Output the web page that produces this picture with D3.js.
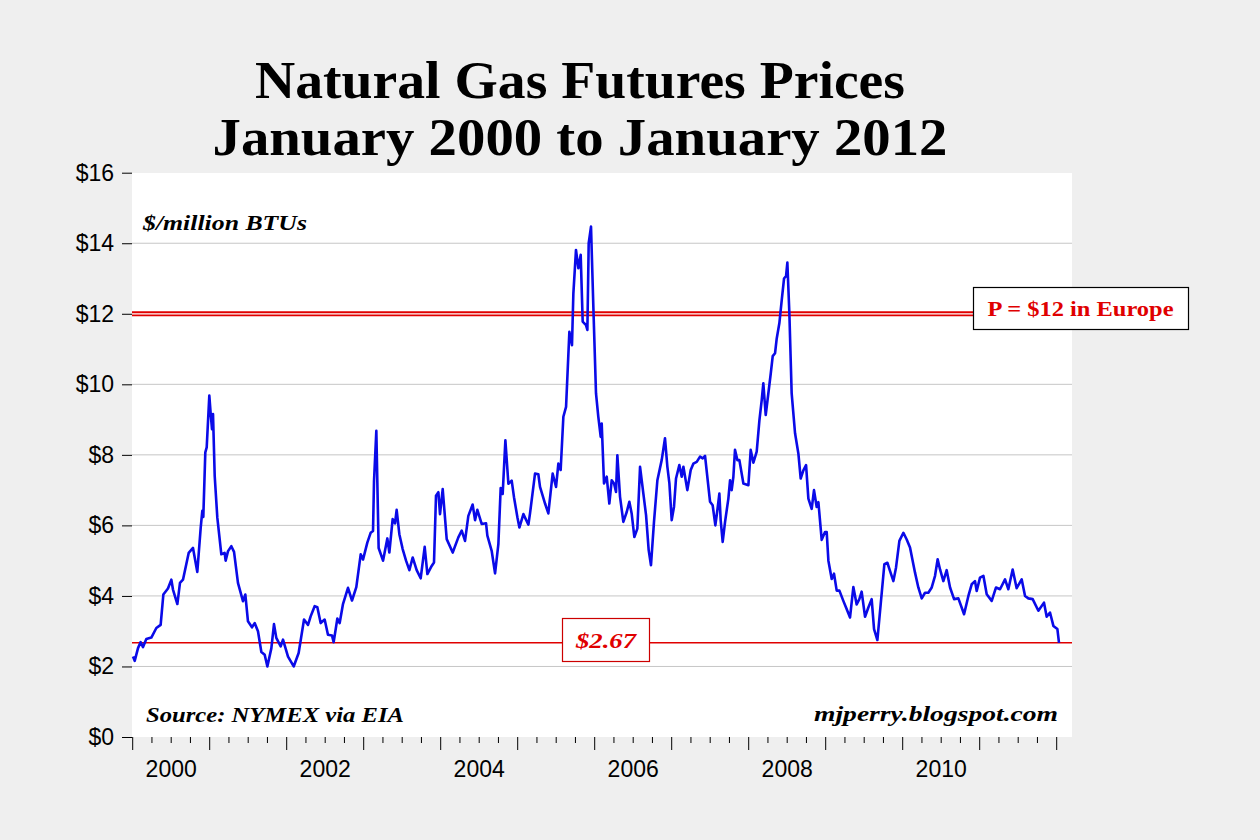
<!DOCTYPE html>
<html>
<head>
<meta charset="utf-8">
<script src="https://cdn.jsdelivr.net/npm/d3@7/dist/d3.min.js"></script>
<style>
  body { margin: 0; background: #efefef; }
  svg { display: block; }
</style>
</head>
<body>
<svg id="chart" width="1260" height="840"></svg>
<script>
// Henry Hub futures (decimal years, $/million BTU)
const years = [
  2000.004, 2000.026, 2000.069, 2000.103, 2000.134, 2000.177, 2000.242, 2000.307, 2000.363, 2000.398,
  2000.458, 2000.502, 2000.523, 2000.580, 2000.614, 2000.653, 2000.727, 2000.783, 2000.839, 2000.883,
  2000.904, 2000.917, 2000.943, 2000.961, 2000.995, 2001.013, 2001.030, 2001.043, 2001.065, 2001.099,
  2001.151, 2001.194, 2001.207, 2001.238, 2001.281, 2001.316, 2001.367, 2001.432, 2001.463, 2001.497,
  2001.549, 2001.584, 2001.627, 2001.671, 2001.714, 2001.749, 2001.801, 2001.835, 2001.865, 2001.922,
  2001.952, 2002.017, 2002.091, 2002.155, 2002.225, 2002.277, 2002.311, 2002.363, 2002.398, 2002.441,
  2002.493, 2002.536, 2002.588, 2002.610, 2002.658, 2002.688, 2002.731, 2002.796, 2002.848, 2002.904,
  2002.961, 2002.991, 2003.047, 2003.090, 2003.121, 2003.134, 2003.164, 2003.194, 2003.251, 2003.307,
  2003.333, 2003.376, 2003.407, 2003.428, 2003.463, 2003.506, 2003.550, 2003.593, 2003.636, 2003.688,
  2003.740, 2003.792, 2003.827, 2003.883, 2003.913, 2003.939, 2003.970, 2003.991, 2004.026, 2004.078,
  2004.156, 2004.229, 2004.273, 2004.316, 2004.359, 2004.415, 2004.446, 2004.476, 2004.532, 2004.589,
  2004.606, 2004.662, 2004.706, 2004.749, 2004.779, 2004.805, 2004.840, 2004.879, 2004.922, 2004.952,
  2004.996, 2005.022, 2005.074, 2005.139, 2005.160, 2005.225, 2005.268, 2005.290, 2005.355, 2005.398,
  2005.454, 2005.498, 2005.528, 2005.558, 2005.593, 2005.628, 2005.671, 2005.705, 2005.723, 2005.757,
  2005.788, 2005.818, 2005.844, 2005.887, 2005.905, 2005.922, 2005.952, 2005.983, 2006.017, 2006.047,
  2006.078, 2006.091, 2006.121, 2006.156, 2006.190, 2006.221, 2006.251, 2006.277, 2006.294, 2006.329,
  2006.372, 2006.416, 2006.450, 2006.480, 2006.515, 2006.554, 2006.589, 2006.632, 2006.667, 2006.701,
  2006.731, 2006.770, 2006.814, 2006.870, 2006.913, 2006.944, 2006.970, 2007.000, 2007.030, 2007.056,
  2007.099, 2007.130, 2007.152, 2007.203, 2007.247, 2007.281, 2007.325, 2007.368, 2007.403, 2007.433,
  2007.498, 2007.532, 2007.567, 2007.593, 2007.619, 2007.636, 2007.662, 2007.693, 2007.736, 2007.758,
  2007.779, 2007.801, 2007.822, 2007.853, 2007.879, 2007.931, 2007.996, 2008.026, 2008.061, 2008.104,
  2008.139, 2008.169, 2008.190, 2008.221, 2008.255, 2008.286, 2008.312, 2008.342, 2008.364, 2008.398,
  2008.429, 2008.459, 2008.485, 2008.502, 2008.528, 2008.558, 2008.602, 2008.645, 2008.675, 2008.710,
  2008.745, 2008.775, 2008.818, 2008.848, 2008.883, 2008.905, 2008.948, 2008.991, 2009.013, 2009.035,
  2009.078, 2009.108, 2009.143, 2009.178, 2009.229, 2009.264, 2009.316, 2009.359, 2009.402, 2009.437,
  2009.467, 2009.511, 2009.554, 2009.597, 2009.628, 2009.671, 2009.714, 2009.762, 2009.801, 2009.835,
  2009.879, 2009.913, 2009.957, 2010.009, 2010.052, 2010.095, 2010.160, 2010.203, 2010.247, 2010.290,
  2010.333, 2010.377, 2010.420, 2010.454, 2010.485, 2010.528, 2010.571, 2010.615, 2010.667, 2010.723,
  2010.797, 2010.853, 2010.896, 2010.939, 2010.961, 2011.004, 2011.048, 2011.091, 2011.156, 2011.212,
  2011.264, 2011.329, 2011.372, 2011.428, 2011.480, 2011.545, 2011.589, 2011.632, 2011.688, 2011.762,
  2011.835, 2011.870, 2011.913, 2011.957, 2012.009, 2012.030
];
const prices = [
  2.28, 2.16, 2.52, 2.69, 2.55, 2.78, 2.82, 3.09, 3.18, 4.04,
  4.21, 4.46, 4.18, 3.77, 4.37, 4.46, 5.22, 5.36, 4.68, 5.93,
  6.41, 6.24, 8.07, 8.21, 9.68, 9.16, 8.73, 9.16, 7.40, 6.22,
  5.18, 5.22, 5.00, 5.27, 5.41, 5.25, 4.37, 3.85, 4.04, 3.28,
  3.11, 3.23, 3.00, 2.41, 2.33, 2.00, 2.52, 3.20, 2.81, 2.57,
  2.76, 2.28, 2.00, 2.38, 3.33, 3.18, 3.42, 3.71, 3.68, 3.23,
  3.33, 2.90, 2.88, 2.69, 3.36, 3.23, 3.77, 4.23, 3.87, 4.25,
  5.18, 5.03, 5.51, 5.79, 5.84, 7.26, 8.68, 5.36, 5.00, 5.63,
  5.23, 6.18, 6.06, 6.44, 5.75, 5.33, 5.00, 4.73, 5.09, 4.73,
  4.50, 5.39, 4.62, 4.85, 4.95, 6.84, 6.94, 6.32, 7.03, 5.61,
  5.23, 5.66, 5.85, 5.56, 6.27, 6.59, 6.15, 6.44, 6.04, 6.06,
  5.71, 5.28, 4.64, 5.47, 7.06, 6.89, 8.41, 7.18, 7.27, 6.80,
  6.23, 5.94, 6.32, 6.02, 6.34, 7.47, 7.45, 7.09, 6.62, 6.34,
  7.47, 7.09, 7.75, 7.57, 9.08, 9.36, 11.49, 11.11, 12.58, 13.81,
  13.29, 13.67, 11.78, 11.68, 11.54, 14.00, 14.47, 12.16, 9.74, 9.08,
  8.51, 8.89, 7.19, 7.38, 6.62, 7.28, 7.19, 6.95, 7.99, 6.81,
  6.10, 6.38, 6.67, 6.34, 5.67, 5.91, 7.66, 6.90, 6.29, 5.30,
  4.87, 6.10, 7.28, 7.85, 8.47, 7.66, 7.19, 6.15, 6.53, 7.33,
  7.71, 7.38, 7.66, 7.00, 7.57, 7.75, 7.80, 7.95, 7.90, 7.97,
  6.67, 6.57, 6.00, 6.43, 6.90, 6.15, 5.53, 6.10, 6.76, 7.28,
  7.00, 7.38, 8.14, 7.85, 7.85, 7.19, 7.14, 8.14, 7.78, 8.09,
  8.98, 9.55, 10.03, 9.13, 9.74, 10.30, 10.80, 10.88, 11.30, 11.73,
  12.39, 13.00, 13.07, 13.45, 12.02, 9.74, 8.61, 8.04, 7.33, 7.56,
  7.71, 6.76, 6.47, 7.00, 6.52, 6.66, 5.59, 5.81, 5.81, 5.00,
  4.48, 4.63, 4.15, 4.15, 3.86, 3.67, 3.39, 4.25, 3.76, 3.91,
  4.12, 3.41, 3.67, 3.91, 3.06, 2.75, 3.76, 4.90, 4.94, 4.71,
  4.42, 4.80, 5.56, 5.79, 5.60, 5.37, 4.66, 4.24, 3.93, 4.09,
  4.09, 4.24, 4.57, 5.04, 4.75, 4.42, 4.73, 4.24, 3.91, 3.93,
  3.48, 4.00, 4.33, 4.42, 4.14, 4.52, 4.57, 4.05, 3.86, 4.24,
  4.19, 4.47, 4.19, 4.75, 4.22, 4.47, 4.00, 3.93, 3.91, 3.58,
  3.81, 3.41, 3.53, 3.15, 3.06, 2.67
];
const yTicks = [0, 2, 4, 6, 8, 10, 12, 14, 16];
const yearLabels = [2000, 2002, 2004, 2006, 2008, 2010];
const europePrice = 12;
const lastPrice = 2.67;

const svg = d3.select("#chart");
const serif = "'Liberation Serif', 'Times New Roman', serif";
const sans = "'Liberation Sans', Arial, sans-serif";
const red = "#e00000";

const plot = { left: 132, right: 1072, top: 173, bottom: 737 };

const x = d3.scaleLinear().domain([2000, 2012]).range([132.7, 1056.7]);
const y = d3.scaleLinear().domain([0, 16]).range([737, 172.7]);

// stretch a text to a given width (the original uses Georgia)
function fit(sel, w) {
  sel.attr("textLength", w).attr("lengthAdjust", "spacingAndGlyphs");
}

// title
const title = svg.append("g")
  .attr("font-family", serif)
  .attr("font-weight", "bold")
  .attr("font-size", 52)
  .attr("text-anchor", "middle")
  .attr("fill", "#000");
title.append("text").attr("x", 580).attr("y", 98)
  .text("Natural Gas Futures Prices").call(fit, 650);
title.append("text").attr("x", 580).attr("y", 155)
  .text("January 2000 to January 2012").call(fit, 735);

// plot area
svg.append("rect")
  .attr("x", plot.left).attr("y", plot.top)
  .attr("width", plot.right - plot.left).attr("height", plot.bottom - plot.top)
  .attr("fill", "#fff");

// gridlines
svg.append("g")
  .selectAll("line")
  .data(yTicks.filter(d => d > 0 && d < 16))
  .join("line")
  .attr("x1", plot.left).attr("x2", plot.right)
  .attr("y1", d => y(d)).attr("y2", d => y(d))
  .attr("stroke", "#c6c6c6").attr("stroke-width", 1);

// y axis (ticks + labels, no domain line)
const yAxis = svg.append("g")
  .attr("transform", `translate(${plot.left},0)`)
  .call(d3.axisLeft(y).tickValues(yTicks).tickSize(10).tickPadding(8)
    .tickFormat(d => "$" + d));
yAxis.select(".domain").remove();
yAxis.selectAll("line").attr("stroke", "#000");
yAxis.selectAll("text").attr("font-family", sans).attr("font-size", 23).attr("fill", "#000");

// x axis: year ticks and quarter ticks
const quarters = d3.range(2000, 2012.01, 0.25);
const xAxis = svg.append("g").attr("transform", `translate(0,${plot.bottom})`);
xAxis.selectAll("line")
  .data(quarters)
  .join("line")
  .attr("x1", d => x(d)).attr("x2", d => x(d))
  .attr("y1", 0)
  .attr("y2", d => Number.isInteger(d) ? 13 : 6)
  .attr("stroke", "#000").attr("stroke-width", 1);
xAxis.selectAll("text")
  .data(yearLabels)
  .join("text")
  .attr("x", d => x(d + 0.5))
  .attr("y", 40)
  .attr("text-anchor", "middle")
  .attr("font-family", sans).attr("font-size", 23)
  .text(d => d);

// $12 Europe reference: double red rule
const yEu = y(europePrice);
svg.append("line")
  .attr("x1", plot.left).attr("x2", 973)
  .attr("y1", yEu).attr("y2", yEu)
  .attr("stroke", red).attr("stroke-width", 5);
svg.append("line")
  .attr("x1", plot.left).attr("x2", 973)
  .attr("y1", yEu).attr("y2", yEu)
  .attr("stroke", "#fff").attr("stroke-width", 1.2);

// latest price rule
const yLast = y(lastPrice);
svg.append("line")
  .attr("x1", plot.left).attr("x2", plot.right)
  .attr("y1", yLast).attr("y2", yLast)
  .attr("stroke", red).attr("stroke-width", 1.5);

// price series
const line = d3.line()
  .x((d, i) => x(years[i]))
  .y(d => y(d));
svg.append("path")
  .datum(prices)
  .attr("d", line)
  .attr("fill", "none")
  .attr("stroke", "#0a0ae8")
  .attr("stroke-width", 2.6)
  .attr("stroke-linejoin", "round");

// annotations
svg.append("text")
  .attr("x", 143).attr("y", 230)
  .attr("font-family", serif).attr("font-weight", "bold").attr("font-style", "italic")
  .attr("font-size", 20)
  .text("$/million BTUs").call(fit, 164);

svg.append("text")
  .attr("x", 146).attr("y", 722)
  .attr("font-family", serif).attr("font-weight", "bold").attr("font-style", "italic")
  .attr("font-size", 21)
  .text("Source: NYMEX via EIA").call(fit, 258);

svg.append("text")
  .attr("x", 1058).attr("y", 721)
  .attr("text-anchor", "end")
  .attr("font-family", serif).attr("font-weight", "bold").attr("font-style", "italic")
  .attr("font-size", 21)
  .text("mjperry.blogspot.com").call(fit, 244);

// Europe label box
svg.append("rect")
  .attr("x", 973.5).attr("y", 287.5).attr("width", 215).attr("height", 42)
  .attr("fill", "#fff").attr("stroke", "#000").attr("stroke-width", 1.2);
svg.append("text")
  .attr("x", 1080.5).attr("y", 316)
  .attr("text-anchor", "middle")
  .attr("font-family", serif).attr("font-weight", "bold")
  .attr("font-size", 21).attr("fill", red)
  .text("P = $12 in Europe").call(fit, 186);

// latest price box
svg.append("rect")
  .attr("x", 562.5).attr("y", 618.5).attr("width", 87).attr("height", 43)
  .attr("fill", "#fff").attr("stroke", "#cc0000").attr("stroke-width", 1.2);
svg.append("text")
  .attr("x", 606).attr("y", 648)
  .attr("text-anchor", "middle")
  .attr("font-family", serif).attr("font-weight", "bold").attr("font-style", "italic")
  .attr("font-size", 22).attr("fill", red)
  .text("$" + lastPrice.toFixed(2)).call(fit, 60);
</script>
</body>
</html>
